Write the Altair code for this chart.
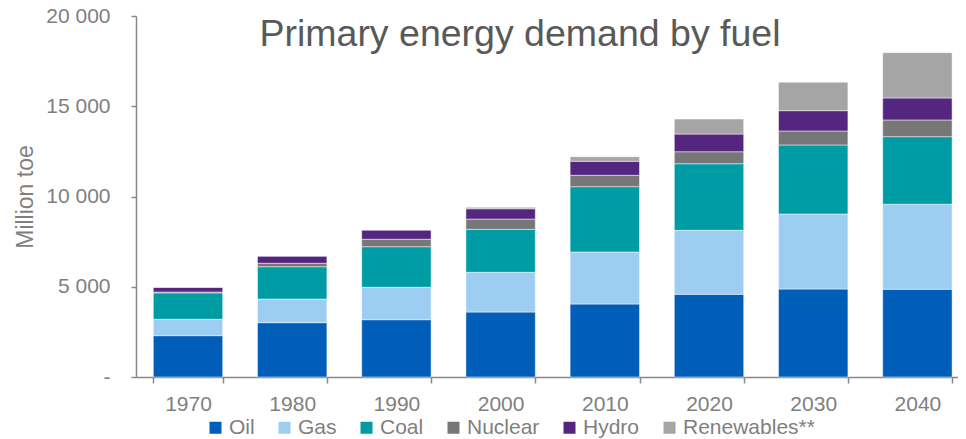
import altair as alt
import pandas as pd

years = ["1970", "1980", "1990", "2000", "2010", "2020", "2030", "2040"]
fuels = ["Oil", "Gas", "Coal", "Nuclear", "Hydro", "Renewables**"]
colors = ["#005EB8", "#9DCEF2", "#009CA6", "#777777", "#55267F", "#A5A5A5"]

oil = [2290, 3010, 3175, 3600, 4045, 4580, 4875, 4860]
gas = [910, 1310, 1795, 2200, 2880, 3545, 4155, 4710]
coal = [1460, 1790, 2250, 2380, 3620, 3690, 3825, 3745]
nuclear = [50, 190, 410, 570, 630, 665, 775, 925]
hydro = [260, 400, 515, 570, 775, 980, 1125, 1220]
renewables = [0, 0, 0, 80, 255, 830, 1575, 2510]

series = [oil, gas, coal, nuclear, hydro, renewables]
rows = []
for i, (fuel, vals) in enumerate(zip(fuels, series)):
    for y, v in zip(years, vals):
        rows.append({"Year": y, "Fuel": fuel, "Value": v, "Order": i})
df = pd.DataFrame(rows)

FONT = "Liberation Sans"
GREY = "#7F7F7F"

chart = alt.Chart(df).mark_bar(
    stroke="white", strokeWidth=0.8, strokeOpacity=0.6
).encode(
    x=alt.X(
        "Year:N",
        sort=years,
        scale=alt.Scale(paddingInner=0.334, paddingOuter=0.1113, align=0.746),
        axis=alt.Axis(
            title=None,
            labelAngle=0,
            tickBand="extent",
            tickExtra=False,
            tickOffset=-17.4,
            tickSize=6,
            labelPadding=10,
            labelFontSize=21,
            labelColor=GREY,
            labelFont=FONT,
            domainColor="#888888",
            tickColor="#888888",
            domainWidth=1.5,
            tickWidth=1.5,
        ),
    ),
    y=alt.Y(
        "Value:Q",
        stack="zero",
        scale=alt.Scale(domain=[0, 20000], nice=False),
        axis=alt.Axis(
            title="Million toe",
            values=[0, 5000, 10000, 15000, 20000],
            labelExpr="datum.value === 0 ? '-\u00a0\u00a0' : replace(format(datum.value, ','), ',', ' ')",
            grid=False,
            tickSize=5,
            labelPadding=21,
            labelFontSize=21,
            labelColor=GREY,
            labelFont=FONT,
            titleFont=FONT,
            titleFontSize=23,
            titleFontWeight="normal",
            titleColor=GREY,
            titleX=-104,
            titleBaseline="alphabetic",
            domainColor="#888888",
            tickColor="#888888",
            domainWidth=1.5,
            tickWidth=1.5,
        ),
    ),
    color=alt.Color(
        "Fuel:N",
        sort=fuels,
        scale=alt.Scale(domain=fuels, range=colors),
        legend=alt.Legend(
            title=None,
            orient="none",
            direction="horizontal",
            legendX=69,
            legendY=401,
            symbolType="square",
            symbolSize=144,
            symbolStrokeWidth=0,
            labelOffset=3,
            columnPadding=19,
            labelFontSize=21,
            labelColor=GREY,
            labelFont=FONT,
            padding=0,
        ),
    ),
    order=alt.Order("Order:Q", sort="ascending"),
).properties(
    width=822,
    height=361,
    padding={"left": 128, "top": 8, "right": 0, "bottom": 62},
    autosize=alt.AutoSizeParams(type="none"),
    title=alt.TitleParams(
        "Primary energy demand by fuel",
        fontSize=37.5,
        font=FONT,
        fontWeight="normal",
        color="#595959",
        anchor="middle",
        offset=0,
        baseline="alphabetic",
        dx=-27,
        dy=78,
    ),
).configure_view(stroke=None)

chart.save("out.html", embed_options={"renderer": "svg", "actions": False})
